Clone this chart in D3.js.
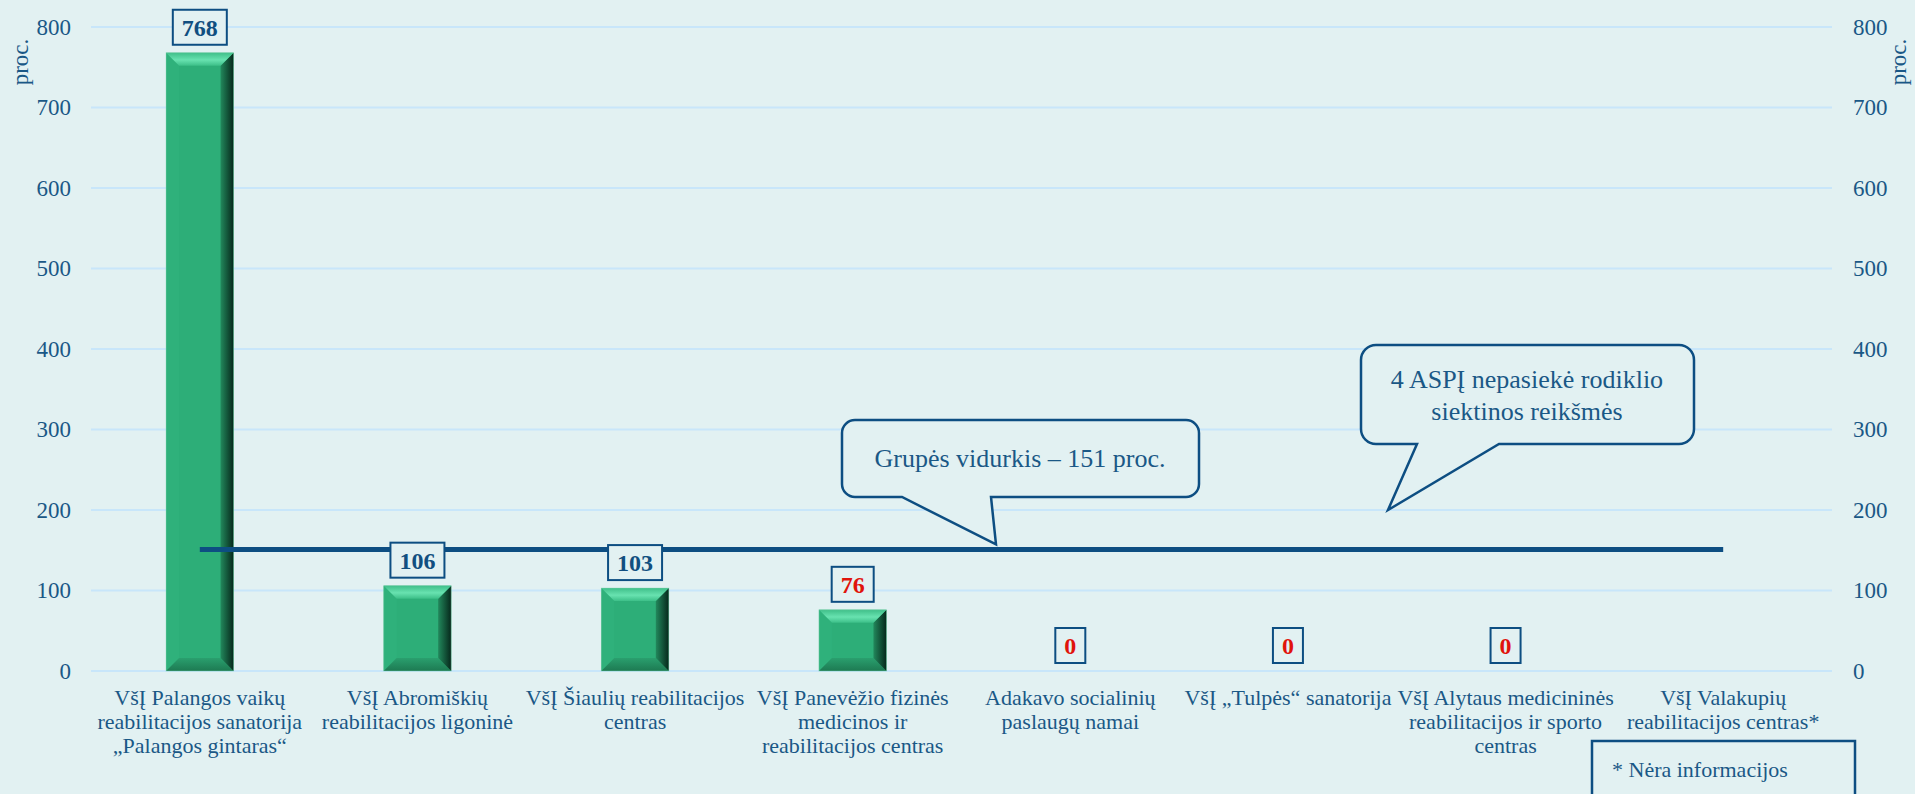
<!DOCTYPE html>
<html>
<head>
<meta charset="utf-8">
<script src="https://cdn.jsdelivr.net/npm/d3@7"></script>
<style>
  html, body { margin: 0; padding: 0; background: #e2f1f2; }
  svg { display: block; font-family: "Liberation Serif", "Times New Roman", serif; }
</style>
</head>
<body>
<div id="chart"></div>
<script>
// category labels, already split into the lines used on the axis
const categoryLines = [
    ["VšĮ Palangos vaikų", "reabilitacijos sanatorija", "„Palangos gintaras“"],
    ["VšĮ Abromiškių", "reabilitacijos ligoninė"],
    ["VšĮ Šiaulių reabilitacijos", "centras"],
    ["VšĮ Panevėžio fizinės", "medicinos ir", "reabilitacijos centras"],
    ["Adakavo socialinių", "paslaugų namai"],
    ["VšĮ „Tulpės“ sanatorija"],
    ["VšĮ Alytaus medicininės", "reabilitacijos ir sporto", "centras"],
    ["VšĮ Valakupių", "reabilitacijos centras*"]
];
const categories = categoryLines.map(l => l.join(" "));
const values = [768, 106, 103, 76, 0, 0, 0, null];   // null = no information
const groupAverage = 151;
const targetValue = 100;
const yTicks = [0, 100, 200, 300, 400, 500, 600, 700, 800];

const width = 1915, height = 794;
const margin = { top: 27, right: 83, bottom: 123, left: 91 };

const textBlue = "#1a5886";
const strokeBlue = "#0d4e82";
const bg = "#e2f1f2";

const svg = d3.select("#chart")
    .append("svg")
    .attr("width", width)
    .attr("height", height);

svg.append("rect").attr("width", width).attr("height", height).attr("fill", bg);

// gradients for the bevelled bars
const defs = svg.append("defs");
const gTop = defs.append("linearGradient").attr("id", "bevTop").attr("x1", 0).attr("y1", 0).attr("x2", 0).attr("y2", 1);
gTop.append("stop").attr("offset", "0%").attr("stop-color", "#3fbf89");
gTop.append("stop").attr("offset", "55%").attr("stop-color", "#68e2b0");
gTop.append("stop").attr("offset", "100%").attr("stop-color", "#3cbf88");
const gRight = defs.append("linearGradient").attr("id", "bevRight").attr("x1", 0).attr("y1", 0).attr("x2", 1).attr("y2", 0);
gRight.append("stop").attr("offset", "0%").attr("stop-color", "#22885c");
gRight.append("stop").attr("offset", "100%").attr("stop-color", "#06281b");
const gBottom = defs.append("linearGradient").attr("id", "bevBottom").attr("x1", 0).attr("y1", 0).attr("x2", 0).attr("y2", 1);
gBottom.append("stop").attr("offset", "0%").attr("stop-color", "#2a9f6e");
gBottom.append("stop").attr("offset", "100%").attr("stop-color", "#1d7a52");

// scales
const x = d3.scaleBand()
    .domain(categories)
    .range([margin.left, width - margin.right])
    .paddingInner(0.69)
    .paddingOuter(0.345);

const y = d3.scaleLinear()
    .domain([0, 800])
    .range([height - margin.bottom, margin.top]);

// gridlines
svg.append("g")
    .selectAll("line")
    .data(yTicks)
    .join("line")
    .attr("x1", margin.left)
    .attr("x2", width - margin.right)
    .attr("y1", d => y(d))
    .attr("y2", d => y(d))
    .attr("stroke", "#c8e6fa")
    .attr("stroke-width", 2);

// y axes, left and right
function styleAxis(g) {
    g.select(".domain").remove();
    g.selectAll("text")
        .attr("fill", textBlue)
        .style("font-size", "23px")
        .style("font-family", "'Liberation Serif', 'Times New Roman', serif");
}
svg.append("g")
    .attr("transform", `translate(${margin.left},0)`)
    .call(d3.axisLeft(y).tickValues(yTicks).tickSize(0).tickPadding(20))
    .call(styleAxis);
svg.append("g")
    .attr("transform", `translate(${width - margin.right},0)`)
    .call(d3.axisRight(y).tickValues(yTicks).tickSize(0).tickPadding(21))
    .call(styleAxis);

// axis titles
[[28, 62], [1906, 62]].forEach(p => {
    svg.append("text")
        .attr("transform", `translate(${p[0]},${p[1]}) rotate(-90)`)
        .attr("text-anchor", "middle")
        .attr("fill", textBlue)
        .style("font-size", "23px")
        .text("proc.");
});

// x axis labels
const xAxis = svg.append("g")
    .attr("transform", `translate(0,${height - margin.bottom})`)
    .call(d3.axisBottom(x).tickSize(0).tickPadding(0));
xAxis.select(".domain").remove();
xAxis.selectAll("text").each(function (d, i) {
    const t = d3.select(this);
    t.text(null)
        .attr("y", 34)
        .attr("dy", null)
        .attr("fill", textBlue)
        .style("font-size", "22px")
        .style("font-family", "'Liberation Serif', 'Times New Roman', serif");
    categoryLines[i].forEach((line, k) => {
        t.append("tspan").attr("x", 0).attr("dy", k === 0 ? 0 : 24).text(line);
    });
});

// bars with a bevel
const bw = x.bandwidth();
const bev = 13;
const barData = categories.map((c, i) => ({ cat: c, v: values[i] })).filter(d => d.v !== null && d.v > 0);
const bars = svg.append("g").selectAll("g").data(barData).join("g");
bars.each(function (d) {
    const g = d3.select(this);
    const x0 = x(d.cat), x1 = x0 + bw;
    const yt = y(d.v), yb = y(0);
    const b = Math.min(bev, (yb - yt) / 3);
    const pts = a => a.map(p => p.join(",")).join(" ");
    g.append("rect").attr("x", x0).attr("y", yt).attr("width", bw).attr("height", yb - yt).attr("fill", "#2dae78");
    g.append("polygon").attr("points", pts([[x0, yt], [x0 + b, yt + b], [x0 + b, yb - b], [x0, yb]])).attr("fill", "#2fb17b");
    g.append("polygon").attr("points", pts([[x0, yb], [x1, yb], [x1 - b, yb - b], [x0 + b, yb - b]])).attr("fill", "url(#bevBottom)");
    g.append("polygon").attr("points", pts([[x1, yt], [x1, yb], [x1 - b, yb - b], [x1 - b, yt + b]])).attr("fill", "url(#bevRight)");
    g.append("polygon").attr("points", pts([[x0, yt], [x1, yt], [x1 - b, yt + b], [x0 + b, yt + b]])).attr("fill", "url(#bevTop)");
    g.append("rect").attr("x", x0).attr("y", yt).attr("width", bw).attr("height", yb - yt)
        .attr("fill", "none").attr("stroke", "#7fd3ad").attr("stroke-width", 0.8).attr("stroke-opacity", 0.5);
});

// group average line
svg.append("line")
    .attr("x1", x(categories[0]) + bw / 2)
    .attr("x2", x(categories[categories.length - 1]) + bw / 2)
    .attr("y1", y(groupAverage))
    .attr("y2", y(groupAverage))
    .attr("stroke", strokeBlue)
    .attr("stroke-width", 5);

// value labels in boxes
const labelData = categories.map((c, i) => ({ cat: c, v: values[i] })).filter(d => d.v !== null);
const labels = svg.append("g").selectAll("g").data(labelData).join("g");
labels.each(function (d) {
    const g = d3.select(this);
    const cx = x(d.cat) + bw / 2;
    const boxBottom = y(d.v) - 8;
    const box = g.append("rect");
    const t = g.append("text")
        .attr("x", cx)
        .attr("y", boxBottom - 9)
        .attr("text-anchor", "middle")
        .attr("fill", d.v < targetValue ? "#e0140c" : "#114f80")
        .style("font-size", "24px")
        .style("font-weight", "bold")
        .text(d.v);
    const tw = t.node().getComputedTextLength();
    box.attr("x", cx - tw / 2 - 9)
        .attr("y", boxBottom - 35)
        .attr("width", tw + 18)
        .attr("height", 35)
        .attr("fill", bg)
        .attr("stroke", strokeBlue)
        .attr("stroke-width", 2);
});

// callout bubbles
function bubble(x0, y0, x1, y1, r, b0, b1, tx, ty) {
    return `M${x0 + r},${y0} H${x1 - r} A${r},${r} 0 0 1 ${x1},${y0 + r} V${y1 - r} A${r},${r} 0 0 1 ${x1 - r},${y1} ` +
        `H${b1} L${tx},${ty} L${b0},${y1} H${x0 + r} A${r},${r} 0 0 1 ${x0},${y1 - r} V${y0 + r} A${r},${r} 0 0 1 ${x0 + r},${y0} Z`;
}

svg.append("path")
    .attr("d", bubble(842, 420, 1199, 497, 13, 902, 991, 996, y(groupAverage) - 5))
    .attr("fill", bg).attr("stroke", strokeBlue).attr("stroke-width", 2.5);
svg.append("text")
    .attr("x", 1020).attr("y", 467)
    .attr("text-anchor", "middle")
    .attr("fill", textBlue)
    .style("font-size", "26px")
    .text("Grupės vidurkis – 151 proc.");

svg.append("path")
    .attr("d", bubble(1361, 345, 1694, 444, 15, 1417, 1499, 1388, y(200)))
    .attr("fill", bg).attr("stroke", strokeBlue).attr("stroke-width", 2.5);
const t2 = svg.append("text")
    .attr("text-anchor", "middle")
    .attr("fill", textBlue)
    .style("font-size", "26px");
t2.append("tspan").attr("x", 1527).attr("y", 388).text("4 ASPĮ nepasiekė rodiklio");
t2.append("tspan").attr("x", 1527).attr("y", 420).text("siektinos reikšmės");

// footnote box
svg.append("rect")
    .attr("x", 1592).attr("y", 741)
    .attr("width", 263).attr("height", 80)
    .attr("fill", bg).attr("stroke", strokeBlue).attr("stroke-width", 2.5);
svg.append("text")
    .attr("x", 1612).attr("y", 777)
    .attr("fill", textBlue)
    .style("font-size", "22px")
    .text("* Nėra informacijos");
</script>
</body>
</html>
